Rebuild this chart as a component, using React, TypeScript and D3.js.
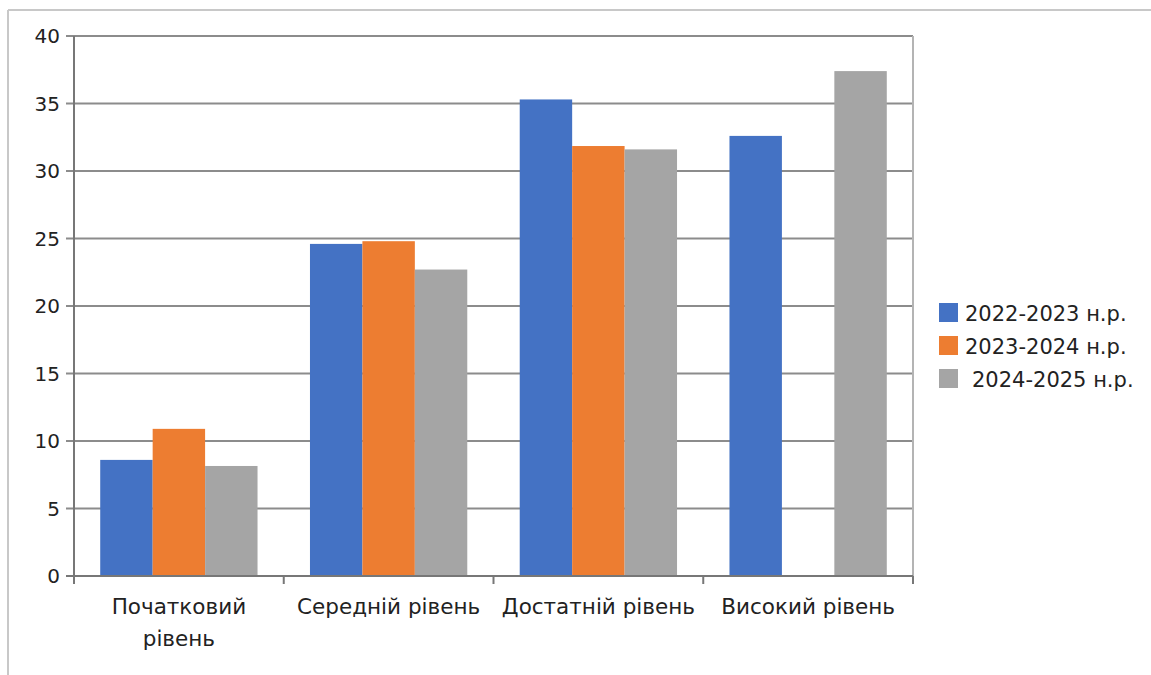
import * as d3 from 'd3';

const categories = ["Початковий рівень", "Середній рівень", "Достатній рівень", "Високий рівень"];
const seriesNames = ["2022-2023 н.р.", "2023-2024 н.р.", "2024-2025 н.р."];
const values2022 = [8.6, 24.6, 35.3, 32.6];
const values2023 = [10.9, 24.8, 31.85, 0];
const values2024 = [8.15, 22.7, 31.6, 37.4];
const colors = ["#4472c4", "#ed7d31", "#a5a5a5"];
const yTicks = [0, 5, 10, 15, 20, 25, 30, 35, 40];

const font = "'DejaVu Sans', sans-serif";

function App() {
    const series = [values2022, values2023, values2024];
    const left = 74, right = 913, top = 36, bottom = 576;

    const x0 = d3.scaleBand<string>().domain(categories).range([left, right]).paddingInner(0);
    const x1 = d3.scaleBand<number>()
        .domain(d3.range(series.length))
        .range([0, x0.bandwidth()])
        .paddingOuter(0.5).paddingInner(0);
    const y = d3.scaleLinear().domain([0, 40]).range([bottom, top]);

    // first category label wraps onto two lines
    const labelLines = (c: string, i: number) => i === 0 ? ["Початковий", "рівень"] : [c];

    return (
        <svg width={1151} height={675} style={{ position: 'absolute', left: 0, top: 0, background: '#fff' }}>
            {/* outer frame */}
            <line x1={8} x2={1151} y1={10} y2={10} stroke="#c8c8c8" strokeWidth={2} />
            <line x1={8} x2={8} y1={10} y2={675} stroke="#c8c8c8" strokeWidth={2} />

            {/* gridlines + y labels */}
            {yTicks.map(t => (
                <g key={t}>
                    <line x1={left - 8} x2={right} y1={y(t)} y2={y(t)} stroke="#8c8c8c" strokeWidth={2} />
                    <text x={60} y={y(t)} dy="0.36em" textAnchor="end" fontFamily={font} fontSize={20} fill="#222">{t}</text>
                </g>
            ))}
            <line x1={right} x2={right} y1={top} y2={bottom} stroke="#b4b4b4" strokeWidth={2} />

            {/* bars */}
            {categories.map((c, ci) => (
                <g key={c} transform={`translate(${x0(c)},0)`}>
                    {series.map((s, si) => s[ci] > 0 ? (
                        <rect key={si} x={x1(si)} width={x1.bandwidth()} y={y(s[ci])}
                            height={y(0) - y(s[ci])} fill={colors[si]} />
                    ) : null)}
                </g>
            ))}

            {/* axes */}
            <line x1={left} x2={left} y1={top} y2={bottom + 8} stroke="#777" strokeWidth={2} />
            <line x1={left - 8} x2={right} y1={bottom} y2={bottom} stroke="#777" strokeWidth={2} />
            {categories.concat([""]).map((c, i) => {
                const xx = i < categories.length ? x0(c)! : right;
                return <line key={i} x1={xx} x2={xx} y1={bottom} y2={bottom + 8} stroke="#777" strokeWidth={2} />;
            })}
            {categories.map((c, i) => (
                <text key={c} x={x0(c)! + x0.bandwidth() / 2} y={614} textAnchor="middle" fontFamily={font} fontSize={21.5} fill="#222">
                    {labelLines(c, i).map((l, li) => (
                        <tspan key={li} x={x0(c)! + x0.bandwidth() / 2} dy={li === 0 ? 0 : 32}>{l}</tspan>
                    ))}
                </text>
            ))}

            {/* legend */}
            {seriesNames.map((n, i) => (
                <g key={n} transform={`translate(939,${303 + i * 33})`}>
                    <rect width={19} height={19} fill={colors[i]} />
                    <text x={i === 2 ? 33 : 26} y={10} dy="0.36em" fontFamily={font} fontSize={21} fill="#222">{n}</text>
                </g>
            ))}
        </svg>
    );
}

export default App;
